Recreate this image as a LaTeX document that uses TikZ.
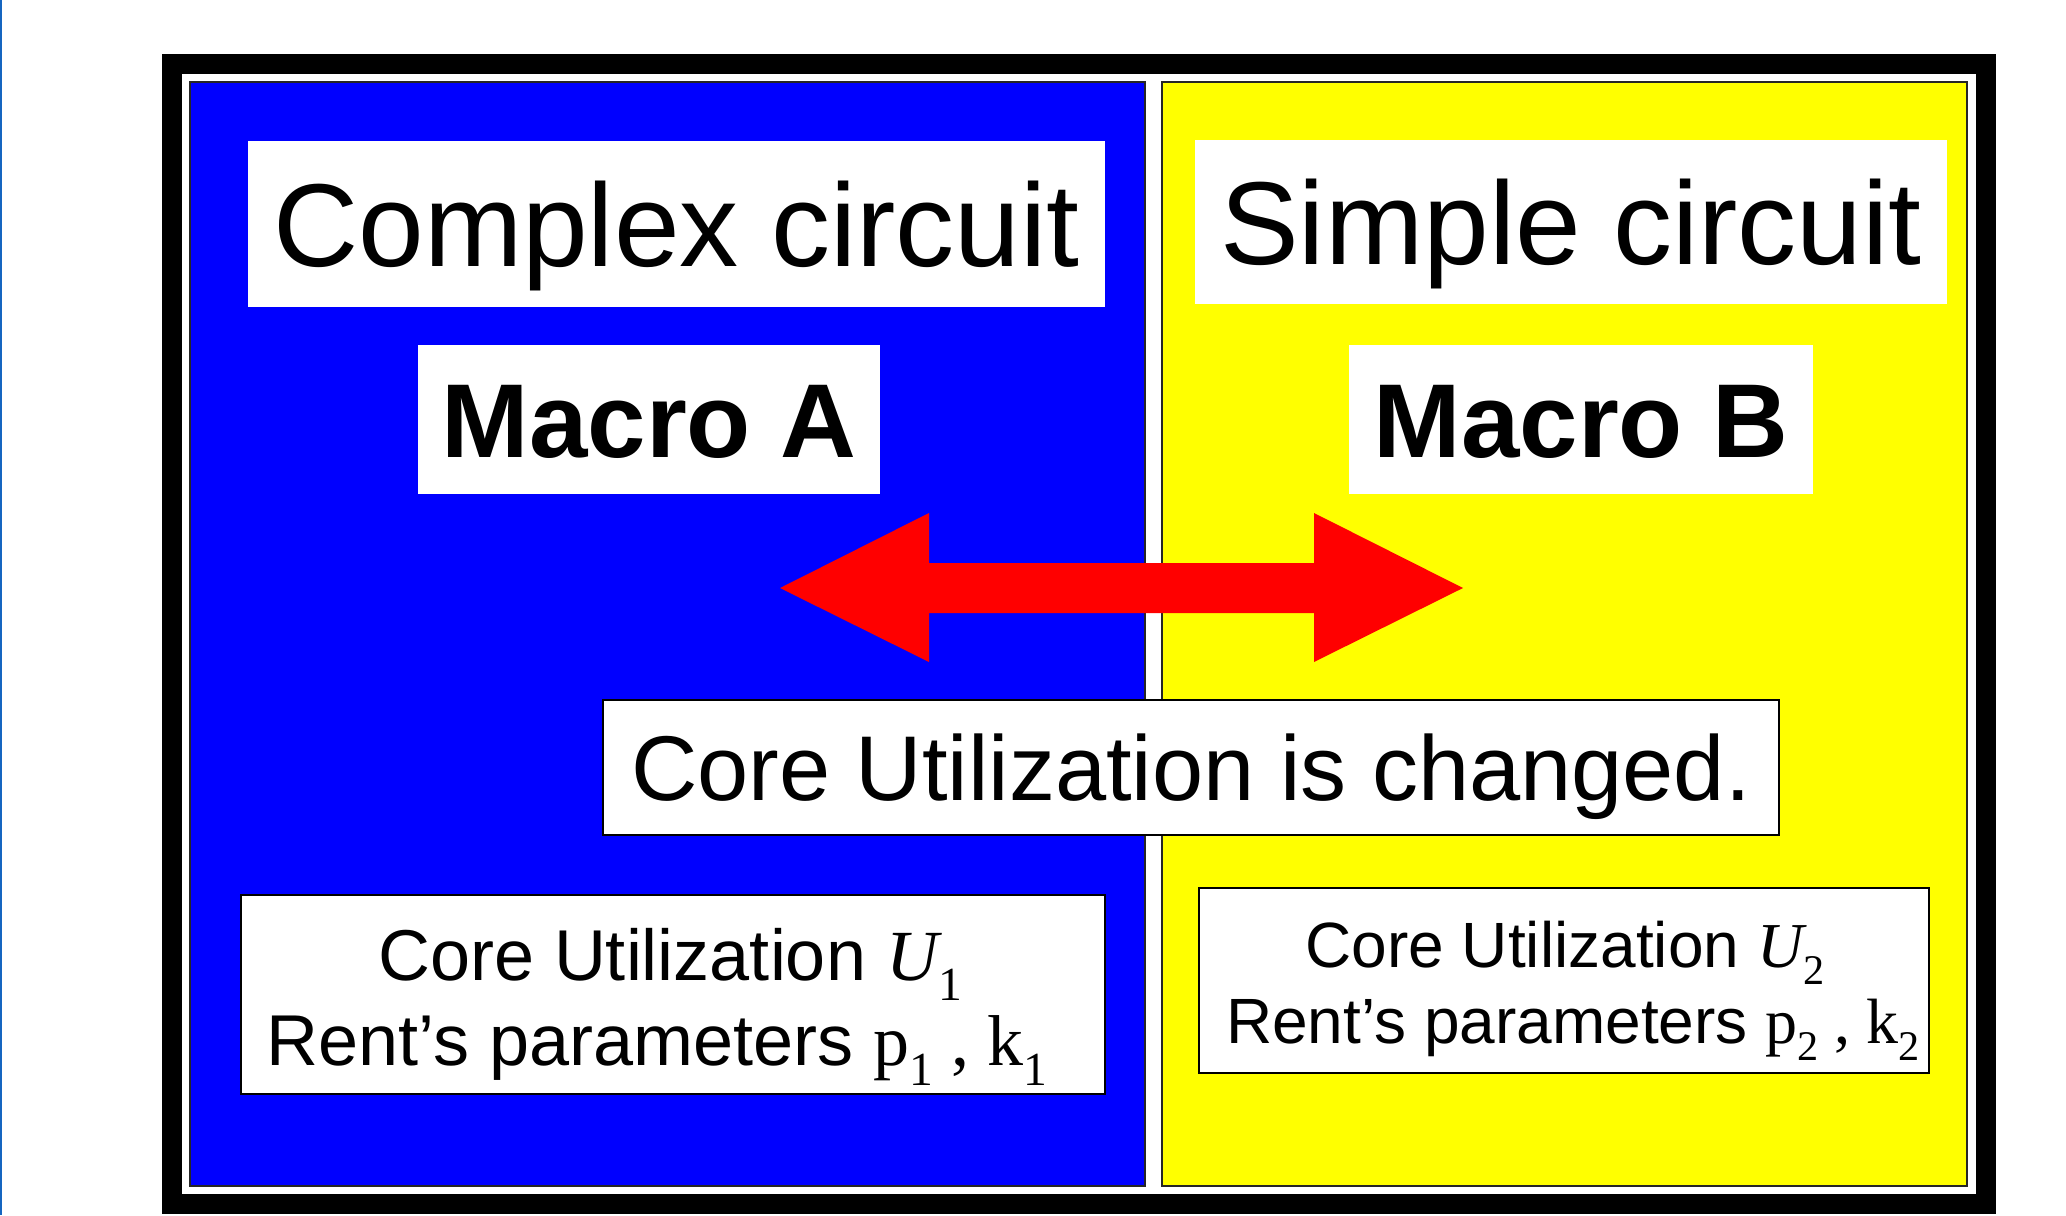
\documentclass[tikz,border=0pt]{standalone}
\usepackage{fontspec}
\setmainfont{Liberation Sans}
\newfontfamily\timesfont{Liberation Serif}
\usepackage{graphicx}
\usepackage{xcolor}
\definecolor{PanelBlue}{HTML}{0000FF}
\definecolor{PanelYellow}{HTML}{FFFF00}
\definecolor{ArrowRed}{HTML}{FF0000}
\definecolor{EdgeBlue}{HTML}{1565C0}
\newcommand{\sbs}[1]{\raisebox{-0.28em}{\scalebox{0.66}{#1}}}

\begin{document}
\begin{tikzpicture}[x = 1pt, y = -1pt,
		panel/.style = {draw = black!85, line width = 1.2pt},
		namebox/.style = {fill = white, inner sep = 0pt, text depth = 0pt},
		infobox/.style = {draw = black, fill = white, line width = 1.2pt, inner sep = 0pt},
		infoline/.style = {anchor = base, inner sep = 0pt}]
	\useasboundingbox (0, 0) rectangle (1033, 607.5);
	\draw[EdgeBlue, line width = 0.8pt] (0.4, 0) -- (0.4, 607.5);
	% outer frame and the two halves
	\draw[line width = 10pt] (86, 32) rectangle (993, 602);
	\filldraw[panel, fill = PanelBlue] (95, 41) rectangle (572.5, 593);
	\filldraw[panel, fill = PanelYellow] (581, 41) rectangle (983.5, 593);
	% double arrow
	\fill[ArrowRed] (390, 294) -- (464.5, 256.5) -- (464.5, 281.5) -- (657, 281.5) -- (657, 256.5)
		-- (731.5, 294) -- (657, 331) -- (657, 306.5) -- (464.5, 306.5) -- (464.5, 331) -- cycle;
	% titles
	\node[namebox, minimum width = 428.5pt, minimum height = 83pt, text height = 42.2pt,
		font = \fontsize{59}{70}\selectfont] (complex) at (338.25, 112) {Complex circuit};
	\node[namebox, minimum width = 376pt, minimum height = 82pt, text height = 42.2pt,
		font = \fontsize{59}{70}\selectfont] (simple) at (785.5, 111) {Simple circuit};
	\node[namebox, minimum width = 231pt, minimum height = 74.5pt, text height = 37.6pt,
		font = \bfseries\fontsize{52.5}{62}\selectfont] (macroA) at (324.5, 209.75) {Macro A};
	\node[namebox, minimum width = 232pt, minimum height = 74.5pt, text height = 37.6pt,
		font = \bfseries\fontsize{52.5}{62}\selectfont] (macroB) at (790.5, 209.75) {Macro B};
	\node[infobox, minimum width = 588pt, minimum height = 67.5pt, text height = 33pt, text depth = 0pt,
		font = \fontsize{46}{55}\selectfont] (change) at (595.5, 383.75) {Core Utilization is changed.};
	% parameter boxes
	\node[infobox, minimum width = 432pt, minimum height = 99.5pt] (uone) at (336.5, 497.25) {};
	\node[infobox, minimum width = 365pt, minimum height = 92.5pt] (utwo) at (782, 490.25) {};
	\begin{scope}[font = \fontsize{36}{43}\selectfont]
		\node[infoline] (uoneA) at (335, 490) {Core Utilization {\timesfont\itshape U}{\timesfont\sbs{1}}};
		\node[infoline] (uoneB) at (328.5, 532.5) {Rent’s parameters {\timesfont p\sbs{1} , k\sbs{1}}};
	\end{scope}
	\begin{scope}[font = \fontsize{32}{38}\selectfont]
		\node[infoline] (utwoA) at (782.5, 483.5) {Core Utilization {\timesfont\itshape U}{\timesfont\sbs{2}}};
		\node[infoline] (utwoB) at (786.5, 521.5) {Rent’s parameters {\timesfont p\sbs{2} , k\sbs{2}}};
	\end{scope}
\end{tikzpicture}
\end{document}
